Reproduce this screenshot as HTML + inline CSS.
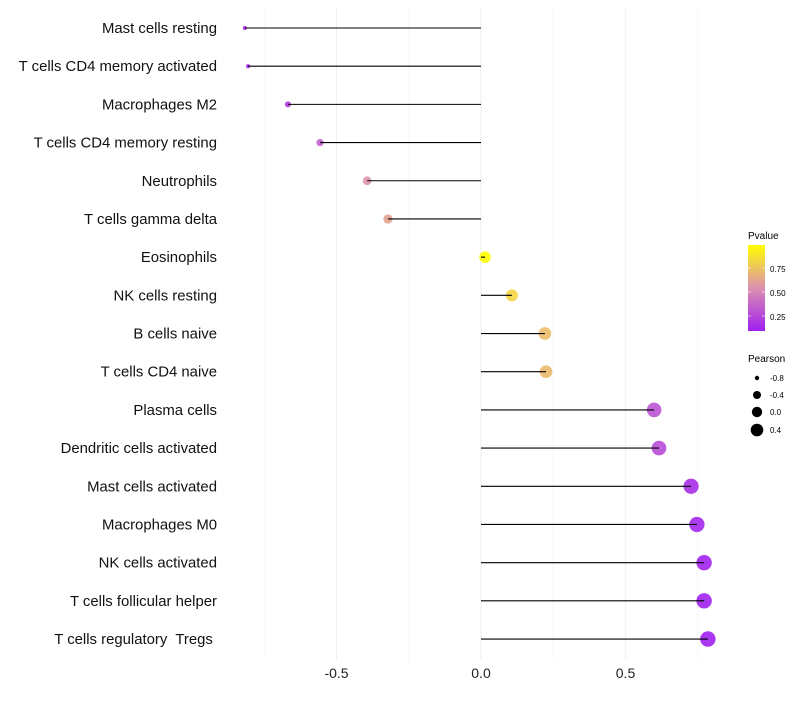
<!DOCTYPE html>
<html><head><meta charset="utf-8"><style>
body{margin:0;background:#fff;}
svg text{font-family:"Liberation Sans",Arial,sans-serif;}
</style></head><body>
<svg id="chart" width="800" height="700">
<defs><linearGradient id="pg" x1="0" y1="1" x2="0" y2="0">
<stop offset="0" stop-color="#a020f0"/><stop offset="0.5" stop-color="#dc90b0"/><stop offset="1" stop-color="#ffff00"/></linearGradient></defs>
<g id="grid"></g><g id="points"></g><g id="marks"></g><g id="labels"></g><g id="xticks"></g>
<g>
<text x="748" y="239" font-size="10">Pvalue</text>
<rect x="748" y="245" width="17" height="86" fill="url(#pg)"/>
<line x1="748" x2="751" y1="268" y2="268" stroke="#fff" opacity=".6"/><line x1="762" x2="765" y1="268" y2="268" stroke="#fff" opacity=".6"/>
<line x1="748" x2="751" y1="292" y2="292" stroke="#fff" opacity=".6"/><line x1="762" x2="765" y1="292" y2="292" stroke="#fff" opacity=".6"/>
<line x1="748" x2="751" y1="316" y2="316" stroke="#fff" opacity=".6"/><line x1="762" x2="765" y1="316" y2="316" stroke="#fff" opacity=".6"/>
<text x="770" y="272" font-size="8">0.75</text><text x="770" y="296" font-size="8">0.50</text><text x="770" y="320" font-size="8">0.25</text>
</g>
<g>
<text x="748" y="362" font-size="10">Pearson</text>
<circle cx="757" cy="378" r="2.2"/><text x="770" y="381" font-size="8">-0.8</text>
<circle cx="757" cy="395" r="4"/><text x="770" y="398" font-size="8">-0.4</text>
<circle cx="757" cy="412" r="5.2"/><text x="770" y="415" font-size="8">0.0</text>
<circle cx="757" cy="430" r="6.3"/><text x="770" y="433" font-size="8">0.4</text>
</g>
</svg>
<script>
const categories=["Mast cells resting","T cells CD4 memory activated","Macrophages M2","T cells CD4 memory resting","Neutrophils","T cells gamma delta","Eosinophils","NK cells resting","B cells naive","T cells CD4 naive","Plasma cells","Dendritic cells activated","Mast cells activated","Macrophages M0","NK cells activated","T cells follicular helper","T cells regulatory  Tregs "];
const pearson=[-0.817,-0.806,-0.668,-0.557,-0.394,-0.322,0.014,0.107,0.221,0.225,0.599,0.616,0.727,0.747,0.772,0.772,0.785];
const pvalue=[0.1,0.12,0.2,0.35,0.55,0.62,0.99,0.82,0.72,0.71,0.3,0.27,0.15,0.13,0.1,0.1,0.1];
const xTicks=[-0.5,0,0.5];
const xTickLabels=["-0.5","0.0","0.5"];
const minorTicks=[-0.75,-0.25,0.25,0.75];
const NS="http://www.w3.org/2000/svg";
const x=v=>481+v*289;
const y=i=>28+i*38.19;
function col(p){const t=Math.max(0,Math.min(1,(p-0.094)/(0.99-0.094)));
 const a=[160,32,240],m=[220,144,176],b=[255,255,0];let c;
 if(t<0.5){const s=t/0.5;c=a.map((v,k)=>v+(m[k]-v)*s);}else{const s=(t-0.5)/0.5;c=m.map((v,k)=>v+(b[k]-v)*s);}
 return `rgb(${c.map(Math.round).join(",")})`;}
const r=v=>Math.sqrt(4+(v+0.82)/(1.61)*56);
function mk(tag,at,parent){const e=document.createElementNS(NS,tag);for(const k in at)e.setAttribute(k,at[k]);document.getElementById(parent).appendChild(e);return e;}
minorTicks.forEach(v=>{const l=mk("line",{x1:x(v),x2:x(v),y1:8,y2:660,stroke:"#f7f7f7","stroke-width":1},"grid");

});
xTicks.forEach((v,i)=>{const l=mk("line",{x1:x(v),x2:x(v),y1:8,y2:660,stroke:"#f1f1f1","stroke-width":1.2},"grid");


const t=mk("text",{x:x(v),y:678,"font-size":14,"text-anchor":"middle",fill:"#222"},"xticks");t.textContent=xTickLabels[i];

});
categories.forEach((c,i)=>{
 const p=mk("circle",{cx:x(pearson[i]),cy:y(i),r:r(pearson[i]),fill:col(pvalue[i]),"fill-opacity":0.9},"points");
 
 
 const l=mk("line",{x1:x(0),x2:x(pearson[i]),y1:y(i),y2:y(i),stroke:"#000","stroke-width":1.1},"marks");
 
 
 const t=mk("text",{x:217,y:y(i)+5,"font-size":14.9,"text-anchor":"end",fill:"#111",style:"white-space:pre"},"labels");t.textContent=c;
 
 
});
</script>
</body></html>
